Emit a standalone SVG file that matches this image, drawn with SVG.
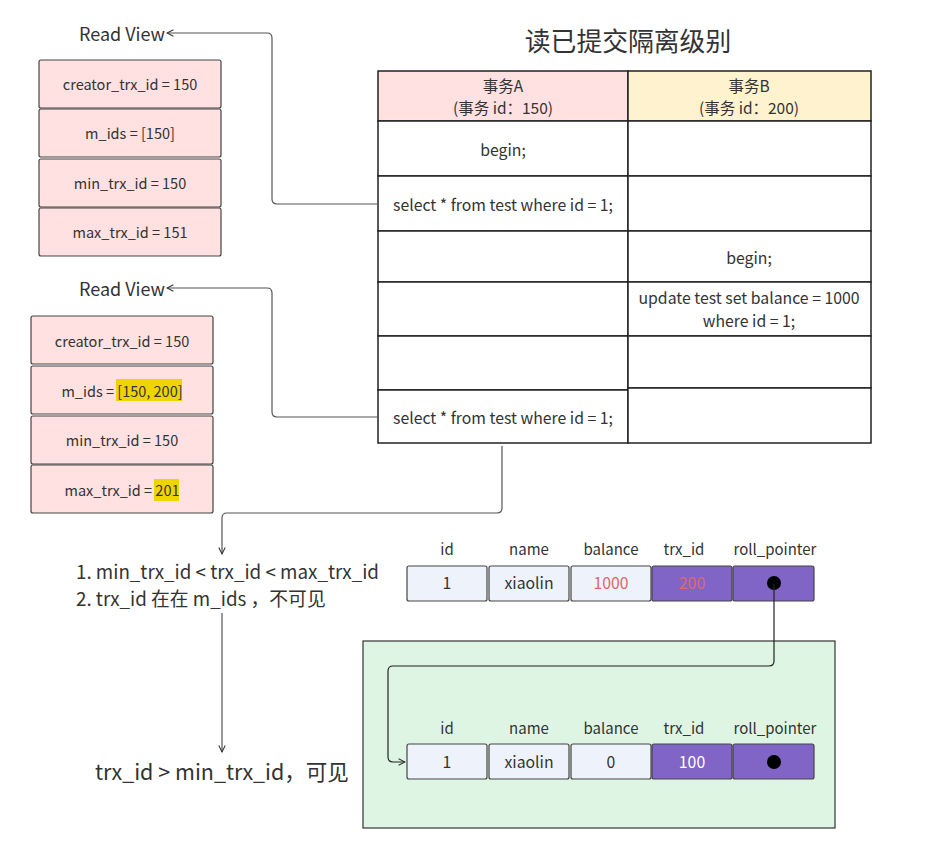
<svg xmlns="http://www.w3.org/2000/svg" width="932" height="851" viewBox="0 0 932 851">
<defs>
<style>
text{font-family:"Noto Sans CJK SC","Noto Sans",sans-serif;fill:#333;}
.rv{fill:#FFE1E1;stroke:#444;stroke-width:1.2;}
.cell{fill:#fff;stroke:#222;stroke-width:1.5;}
.t14{font-size:14.5px;text-anchor:middle;}
.th{font-size:15.5px;text-anchor:middle;}
.t15{font-size:15.8px;text-anchor:middle;}
.lab{font-size:15px;text-anchor:middle;fill:#333;}
.rc{fill:#EEF3FB;stroke:#444;stroke-width:1.2;}
.rp{fill:#8165C6;stroke:#444;stroke-width:1.2;}
.conn{fill:none;stroke:#555;stroke-width:1.2;}
.hl{fill:#F0D400;}
</style>
<marker id="ah" viewBox="0 0 10 10" refX="9" refY="5" markerWidth="8" markerHeight="8" orient="auto" markerUnits="userSpaceOnUse">
<path d="M1,1 L9,5 L1,9" fill="none" stroke="#333" stroke-width="1.3"/>
</marker>
</defs>
<rect width="932" height="851" fill="#fff"/>

<text x="628" y="51" style="font-size:25.8px;text-anchor:middle;">读已提交隔离级别</text>

<g id="readview1">
<text x="79" y="41" style="font-size:18px;">Read View</text>
<rect class="rv" x="39" y="60" width="182" height="48" rx="2"/>
<rect class="rv" x="39" y="109" width="182" height="48" rx="2"/>
<rect class="rv" x="39" y="159" width="182" height="48" rx="2"/>
<rect class="rv" x="39" y="208" width="182" height="48" rx="2"/>
<text class="t14" x="130" y="90">creator_trx_id = 150</text>
<text class="t14" x="130" y="139">m_ids = [150]</text>
<text class="t14" x="130" y="189">min_trx_id = 150</text>
<text class="t14" x="130" y="238">max_trx_id = 151</text>
</g>

<g id="readview2">
<text x="79" y="296" style="font-size:18px;">Read View</text>
<rect class="rv" x="31" y="316" width="182" height="48" rx="2"/>
<rect class="rv" x="31" y="366" width="182" height="48" rx="2"/>
<rect class="rv" x="31" y="416" width="182" height="48" rx="2"/>
<rect class="rv" x="31" y="465" width="182" height="48" rx="2"/>
<rect class="hl" x="116" y="379" width="66" height="22"/>
<rect class="hl" x="154" y="479" width="25" height="22"/>
<text class="t14" x="122" y="347">creator_trx_id = 150</text>
<text class="t14" x="122" y="397">m_ids = [150, 200]</text>
<text class="t14" x="122" y="446">min_trx_id = 150</text>
<text class="t14" x="122" y="496">max_trx_id = 201</text>
</g>

<g id="table">
<rect x="378" y="71" width="250" height="50" fill="#FFE1E1" stroke="#222" stroke-width="1.5"/>
<rect x="628" y="71" width="243" height="50" fill="#FFF2CE" stroke="#222" stroke-width="1.5"/>
<text class="th" x="503" y="92">事务A</text>
<text class="th" x="503" y="114">(事务 id：150)</text>
<text class="th" x="749" y="92">事务B</text>
<text class="th" x="749" y="114">(事务 id：200)</text>
<rect class="cell" x="378" y="121" width="250" height="55"/>
<rect class="cell" x="378" y="176" width="250" height="55"/>
<rect class="cell" x="378" y="231" width="250" height="51"/>
<rect class="cell" x="378" y="282" width="250" height="54"/>
<rect class="cell" x="378" y="336" width="250" height="54"/>
<rect class="cell" x="378" y="390" width="250" height="53"/>
<rect class="cell" x="628" y="121" width="243" height="55"/>
<rect class="cell" x="628" y="176" width="243" height="55"/>
<rect class="cell" x="628" y="231" width="243" height="51"/>
<rect class="cell" x="628" y="282" width="243" height="54"/>
<rect class="cell" x="628" y="336" width="243" height="52"/>
<rect class="cell" x="628" y="388" width="243" height="55"/>
<text class="t15" x="503" y="156">begin;</text>
<text class="t15" x="503" y="211">select * from test where id = 1;</text>
<text class="t15" x="749" y="264">begin;</text>
<text class="t15" x="749" y="304">update test set balance = 1000</text>
<text class="t15" x="749" y="327">where id = 1;</text>
<text class="t15" x="503" y="424">select * from test where id = 1;</text>
</g>

<g id="conditions">
<text x="76" y="579" style="font-size:18.8px;">1. min_trx_id &lt; trx_id &lt; max_trx_id</text>
<text x="76" y="606" style="font-size:18.8px;">2. trx_id 在在 m_ids ，不可见</text>
<text x="95" y="780" style="font-size:21.5px;">trx_id &gt; min_trx_id，可见</text>
</g>

<g id="record1">
<text class="lab" x="447" y="555">id</text>
<text class="lab" x="529" y="555">name</text>
<text class="lab" x="611" y="555">balance</text>
<text class="lab" x="684" y="555">trx_id</text>
<text class="lab" x="775" y="555">roll_pointer</text>
<rect class="rc" x="407" y="566" width="80" height="35" rx="2"/>
<rect class="rc" x="489" y="566" width="80" height="35" rx="2"/>
<rect class="rc" x="571" y="566" width="80" height="35" rx="2"/>
<rect class="rp" x="652" y="566" width="80" height="35" rx="2"/>
<rect class="rp" x="733" y="566" width="81" height="35" rx="2"/>
<text class="t15" x="447" y="589">1</text>
<text class="t15" x="529" y="589">xiaolin</text>
<text class="t15" x="611" y="589" style="fill:#E06666;">1000</text>
<text class="t15" x="692" y="589" style="fill:#E06666;">200</text>
<circle cx="774" cy="583" r="7" fill="#000"/>
</g>

<g id="history">
<rect x="363" y="641" width="472" height="187" fill="#DFF5E4" stroke="#333" stroke-width="1.2"/>
<text class="lab" x="447" y="734">id</text>
<text class="lab" x="529" y="734">name</text>
<text class="lab" x="611" y="734">balance</text>
<text class="lab" x="684" y="734">trx_id</text>
<text class="lab" x="775" y="734">roll_pointer</text>
<rect class="rc" x="407" y="744" width="80" height="35" rx="2"/>
<rect class="rc" x="489" y="744" width="80" height="35" rx="2"/>
<rect class="rc" x="571" y="744" width="80" height="35" rx="2"/>
<rect class="rp" x="652" y="744" width="80" height="35" rx="2"/>
<rect class="rp" x="733" y="744" width="81" height="35" rx="2"/>
<text class="t15" x="447" y="768">1</text>
<text class="t15" x="529" y="768">xiaolin</text>
<text class="t15" x="611" y="768">0</text>
<text class="t15" x="692" y="768" style="fill:#fff;">100</text>
<circle cx="774" cy="762" r="7" fill="#000"/>
</g>

<g id="connectors">
<path class="conn" d="M378,204 H277 Q272,204 272,199 V38 Q272,33 267,33 H167" marker-end="url(#ah)"/>
<path class="conn" d="M378,417 H277 Q272,417 272,412 V293 Q272,288 267,288 H167" marker-end="url(#ah)"/>
<path class="conn" d="M502,446 V508 Q502,513 497,513 H227 Q222,513 222,518 V554" marker-end="url(#ah)"/>
<path class="conn" d="M222,613 V752" marker-end="url(#ah)"/>
<path class="conn" d="M774,584 V661 Q774,666 769,666 H393 Q388,666 388,671 V757 Q388,762 393,762 H405" marker-end="url(#ah)" style="stroke:#222;"/>
</g>
</svg>
